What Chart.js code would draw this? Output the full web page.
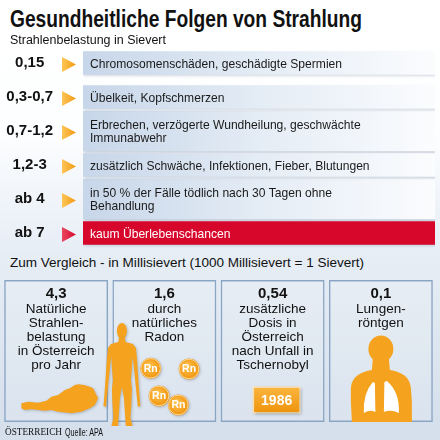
<!DOCTYPE html>
<html lang="de">
<head>
<meta charset="utf-8">
<title>Gesundheitliche Folgen von Strahlung</title>
<script src="https://cdn.jsdelivr.net/npm/chart.js@4.4.1/dist/chart.umd.min.js"></script>
<style>
  html, body { margin: 0; padding: 0; }
  body {
    width: 440px; height: 440px; position: relative; overflow: hidden;
    background: linear-gradient(180deg, #ffffff 0%, #fdfeff 30%, #e6edf5 58%, #d4dfeb 100%);
    font-family: "Liberation Sans Narrow", "Liberation Sans", sans-serif; color: #111;
  }
  canvas { position: absolute; left: 0; }
  #stufen { top: 40px; }
  #vergleich { top: 276px; }
  .txt { position: absolute; white-space: nowrap; line-height: 1; transform-origin: 0 0; }
  #titel { left: 10px; top: 7px; font-size: 24px; font-weight: bold; }
  #unter { left: 10px; top: 34px; font-size: 12.5px; font-family: "Liberation Sans", sans-serif; }
  #zumVergleich { left: 10px; top: 257px; font-size: 12.5px; font-family: "Liberation Sans", sans-serif; }
  #marke { left: 5px; top: 426px; font-size: 11px; font-family: "Liberation Serif", serif; }
  #quelle { left: 65px; top: 426.5px; font-size: 10.5px; }
</style>
</head>
<body>
<canvas id="stufen" width="440" height="214"></canvas>
<canvas id="vergleich" width="440" height="150"></canvas>

<div class="txt" id="titel" data-w="352">Gesundheitliche Folgen von Strahlung</div>
<div class="txt" id="unter" data-w="156">Strahlenbelastung in Sievert</div>
<div class="txt" id="zumVergleich" data-w="354">Zum Vergleich - in Millisievert (1000 Millisievert = 1 Sievert)</div>
<div class="txt" id="marke" data-w="57">ÖSTERREICH</div>
<div class="txt" id="quelle" data-w="38">Quelle: APA</div>

<script>
// Strahlenbelastung in Sievert und ihre Folgen
const dosen = ['0,15', '0,3-0,7', '0,7-1,2', '1,2-3', 'ab 4', 'ab 7'];
const folgen = [
    ['Chromosomenschäden, geschädigte Spermien'],
    ['Übelkeit, Kopfschmerzen'],
    ['Erbrechen, verzögerte Wundheilung, geschwächte', 'Immunabwehr'],
    ['zusätzlich Schwäche, Infektionen, Fieber, Blutungen'],
    ['in 50 % der Fälle tödlich nach 30 Tagen ohne', 'Behandlung'],
    ['kaum Überlebenschancen']
];

// Zum Vergleich, in Millisievert
const vergleichWerte = [4.3, 1.6, 0.54, 0.1];
const vergleichTexte = [
    ['Natürliche', 'Strahlen-', 'belastung', 'in Österreich', 'pro Jahr'],
    ['durch', 'natürliches', 'Radon'],
    ['zusätzliche', 'Dosis in', 'Österreich', 'nach Unfall in', 'Tschernobyl'],
    ['Lungen-', 'röntgen']
];
const unfallJahr = '1986';
const radonSymbol = 'Rn';

const ORANGE = '#f5a21e';
const ROT = '#d7062b';

// Breite der Textzeilen an die Vorlage anpassen
document.querySelectorAll('[data-w]').forEach(el => {
    const w = el.getBoundingClientRect().width;
    el.style.transform = 'scaleX(' + (el.dataset.w / w) + ')';
});

// Farbe der Kästen: letzte Stufe rot, sonst blau -> weiss
function balkenFarbe(ctx) {
    if (ctx.dataIndex === dosen.length - 1) return ROT;
    const a = ctx.chart.chartArea;
    if (!a) return '#dbe5f0';
    const g = ctx.chart.ctx.createLinearGradient(a.left, 0, a.right, 0);
    g.addColorStop(0, '#c7d6e9');
    g.addColorStop(0.5, '#e4ecf5');
    g.addColorStop(1, '#fbfcfe');
    return g;
}

// Schatten, Pfeile und Texte in den Kästen
const zeilenPlugin = {
    id: 'zeilen',
    beforeDatasetsDraw(chart) {
        const c = chart.ctx;
        c.save();
        c.shadowColor = 'rgba(70, 90, 120, 0.3)';
        c.shadowBlur = 3;
        c.shadowOffsetX = 1.5;
        c.shadowOffsetY = 1.5;
    },
    afterDatasetsDraw(chart) {
        const c = chart.ctx;
        c.restore();
        const a = chart.chartArea;
        folgen.forEach((zeilen, i) => {
            const el = chart.getDatasetMeta(zeilen.length > 1 ? 1 : 0).data[i];
            const letzte = i === dosen.length - 1;

            // Pfeil
            const py = el.y + 1.5;
            const px = a.left - 21;
            const g = c.createLinearGradient(px, 0, px + 14, 0);
            g.addColorStop(0, letzte ? '#e8485f' : '#fcc657');
            g.addColorStop(1, letzte ? ROT : '#f39a12');
            c.save();
            c.fillStyle = g;
            c.beginPath();
            c.moveTo(px, py - 7.5);
            c.lineTo(px + 14, py);
            c.lineTo(px, py + 7.5);
            c.closePath();
            c.fill();

            // Text (etwas schmaler gesetzt wie in der Vorlage)
            c.font = '13px "Liberation Sans", sans-serif';
            c.fillStyle = letzte ? '#ffffff' : '#1a1a1a';
            c.textAlign = 'left';
            c.textBaseline = 'alphabetic';
            const y0 = el.y - (zeilen.length - 1) * 12.5 / 2 + 4.6;
            zeilen.forEach((t, k) => {
                c.save();
                c.translate(a.left + 7, y0 + k * 12.5);
                c.scale(0.93, 1);
                c.fillText(t, 0, 0);
                c.restore();
            });
            c.restore();
        });
    }
};

new Chart(document.getElementById('stufen'), {
    type: 'bar',
    data: {
        labels: dosen,
        datasets: [{
            label: 'einzeilig',
            data: folgen.map(f => f.length === 1 ? 1 : null),
            barThickness: 23,
            grouped: false,
            backgroundColor: balkenFarbe
        }, {
            label: 'zweizeilig',
            data: folgen.map(f => f.length > 1 ? 1 : null),
            barThickness: 40,
            grouped: false,
            backgroundColor: balkenFarbe
        }]
    },
    options: {
        indexAxis: 'y',
        responsive: false,
        animation: false,
        layout: { padding: { top: 6, bottom: 4, right: 5 } },
        plugins: { legend: { display: false }, tooltip: { enabled: false } },
        scales: {
            x: { min: 0, max: 1, display: false },
            y: {
                grid: { display: false, drawTicks: false },
                border: { display: false },
                ticks: {
                    autoSkip: false,
                    crossAlign: 'center',
                    padding: 30,
                    color: '#111',
                    font: { family: 'Liberation Sans', weight: 'bold', size: 15 }
                },
                afterFit: s => {
                    s.width = 83;
                    s.paddingTop = 0;
                    s.paddingBottom = 0;
                }
            }
        }
    },
    plugins: [zeilenPlugin]
});

// Symbole im unteren Teil
function umriss(c, x0, y0, punkte) {
    c.beginPath();
    punkte.forEach(([x, y], k) => k ? c.lineTo(x0 + x, y0 + y) : c.moveTo(x0 + x, y0 + y));
    c.closePath();
    c.fill();
}

function mensch(c, cx, top) {
    c.beginPath();
    c.ellipse(cx, top + 8, 5, 8, 0, 0, Math.PI * 2);
    c.fill();
    const links = [[-3, 15], [-3.5, 19], [-11, 21], [-14, 25], [-15, 35], [-16, 50], [-17, 65], [-18, 78],
        [-18.5, 83], [-16, 84], [-14.5, 70], [-13, 55], [-11.5, 40], [-10.5, 34], [-10, 45], [-9, 57],
        [-10, 66], [-9.5, 80], [-8.5, 95], [-10.5, 103], [-4, 104], [-3, 90], [-2, 75]];
    const rechts = links.slice().reverse().map(([x, y]) => [-x, y]);
    umriss(c, cx, top, links.concat([[0, 64]], rechts));
}

function radonKugel(c, x, y, r) {
    const g = c.createRadialGradient(x - r * 0.25, y - r * 0.3, r * 0.1, x, y, r);
    g.addColorStop(0, '#fcc453');
    g.addColorStop(0.65, '#f6a523');
    g.addColorStop(1, '#ec930f');
    c.fillStyle = g;
    c.beginPath();
    c.arc(x, y, r, 0, Math.PI * 2);
    c.fill();
    c.save();
    c.shadowColor = 'transparent';
    c.strokeStyle = 'rgba(255, 222, 160, 0.9)';
    c.lineWidth = 1;
    c.beginPath();
    c.arc(x, y, r - 0.8, 0, Math.PI * 2);
    c.stroke();
    c.fillStyle = '#ffffff';
    c.font = 'bold 10.5px "Liberation Sans", sans-serif';
    c.textAlign = 'center';
    c.textBaseline = 'middle';
    c.fillText(radonSymbol, x, y + 0.5);
    c.restore();
}

function oesterreich(c, x0, y0) {
    umriss(c, x0, y0, [[0.3, 18.3], [7, 16.7], [17, 17.7], [25.3, 15.7], [30.3, 11.7], [37, 10], [43.7, 5],
        [48.7, 3.3], [53.7, 0], [57, -0.7], [63, 0], [68.7, 1.7], [72, 3.3], [75.3, 10], [77, 13.3],
        [73.7, 20], [68.7, 23.3], [60.3, 26.7], [50.3, 28.3], [37, 26.7], [30.3, 25], [23.7, 25.7],
        [17, 25], [10.3, 24.3], [3.7, 25], [0.3, 23.3]]);
}

function oberkoerper(c, cx, top) {
    c.fillStyle = ORANGE;
    c.beginPath();
    c.ellipse(cx, top + 13, 12.5, 13.5, 0, 0, Math.PI * 2);
    c.fill();
    c.beginPath();
    c.moveTo(cx - 8, top + 22);
    c.lineTo(cx + 8, top + 22);
    c.lineTo(cx + 9, top + 34);
    c.bezierCurveTo(cx + 20, top + 36, cx + 29, top + 40, cx + 30, top + 52);
    c.lineTo(cx + 31, top + 66);
    c.lineTo(cx + 31, top + 86);
    c.lineTo(cx - 29, top + 86);
    c.lineTo(cx - 30, top + 66);
    c.lineTo(cx - 30, top + 52);
    c.bezierCurveTo(cx - 29, top + 40, cx - 20, top + 36, cx - 9, top + 34);
    c.closePath();
    c.fill();
    // Lungenflügel
    c.shadowColor = 'transparent';
    c.fillStyle = '#ffffff';
    c.beginPath();
    c.moveTo(cx - 6, top + 47);
    c.lineTo(cx - 5.5, top + 76);
    c.quadraticCurveTo(cx - 11, top + 73, cx - 17, top + 77);
    c.quadraticCurveTo(cx - 18, top + 57, cx - 8, top + 46);
    c.closePath();
    c.fill();
    c.beginPath();
    c.moveTo(cx + 3.5, top + 46);
    c.lineTo(cx + 3, top + 76);
    c.quadraticCurveTo(cx + 10, top + 73, cx + 18, top + 77);
    c.quadraticCurveTo(cx + 19, top + 56, cx + 6, top + 45);
    c.closePath();
    c.fill();
}

function jahrPlakette(c, cx, y) {
    const w = 45, h = 24;
    const g = c.createLinearGradient(0, y, 0, y + h);
    g.addColorStop(0, '#fab43c');
    g.addColorStop(1, '#ef950f');
    c.fillStyle = '#fde2b0';
    c.fillRect(cx - w / 2 - 1.5, y - 1.5, w + 3, h + 3);
    c.fillStyle = g;
    c.fillRect(cx - w / 2, y, w, h);
    c.shadowColor = 'transparent';
    c.fillStyle = '#ffffff';
    c.font = 'bold 14px "Liberation Sans", sans-serif';
    c.textAlign = 'center';
    c.textBaseline = 'middle';
    c.fillText(unfallJahr, cx, y + h / 2 + 1);
}

const kastenPlugin = {
    id: 'kasten',
    afterDatasetsDraw(chart) {
        const c = chart.ctx;
        const els = chart.getDatasetMeta(0).data;

        // Texte
        els.forEach((el, i) => {
            const top = el.y;
            c.save();
            c.fillStyle = '#111';
            c.textAlign = 'center';
            c.textBaseline = 'alphabetic';
            c.font = 'bold 15px "Liberation Sans", sans-serif';
            c.fillText(String(vergleichWerte[i]).replace('.', ','), el.x, top + 18);
            c.font = '13.5px "Liberation Sans Narrow", "Liberation Sans", sans-serif';
            vergleichTexte[i].forEach((t, k) => c.fillText(t, el.x, top + 33 + k * 14));
            c.restore();
        });

        c.save();
        c.shadowColor = 'rgba(60, 70, 90, 0.3)';
        c.shadowBlur = 3;
        c.shadowOffsetX = 1;
        c.shadowOffsetY = 1;
        c.fillStyle = ORANGE;
        const e0 = els[0], e1 = els[1], e2 = els[2], e3 = els[3];
        oesterreich(c, e0.x - 35, e0.y + 105);
        mensch(c, e1.x - e1.width / 2 + 9.5, e1.y + 43);
        [[-13.7, 88.3], [24.7, 89], [-5.3, 116], [14, 125]].forEach(([dx, dy]) => {
            radonKugel(c, e1.x + dx, e1.y + dy, 10.5);
        });
        jahrPlakette(c, e2.x + 4, e2.y + 108);
        oberkoerper(c, e3.x, e3.y + 56);
        c.restore();
    }
};

new Chart(document.getElementById('vergleich'), {
    type: 'bar',
    data: {
        labels: vergleichWerte.map(v => String(v).replace('.', ',')),
        datasets: [{
            label: 'Millisievert',
            data: vergleichWerte.map(() => 1),
            backgroundColor: 'rgba(255, 255, 255, 0.12)',
            borderColor: '#8aa4c4',
            borderWidth: 1.5,
            borderSkipped: false,
            barPercentage: 0.96,
            categoryPercentage: 1
        }]
    },
    options: {
        responsive: false,
        animation: false,
        layout: { padding: { left: 2, right: 5, top: 4, bottom: 4 } },
        plugins: { legend: { display: false }, tooltip: { enabled: false } },
        scales: {
            x: { display: false },
            y: { display: false, min: 0, max: 1 }
        }
    },
    plugins: [kastenPlugin]
});
</script>
</body>
</html>
